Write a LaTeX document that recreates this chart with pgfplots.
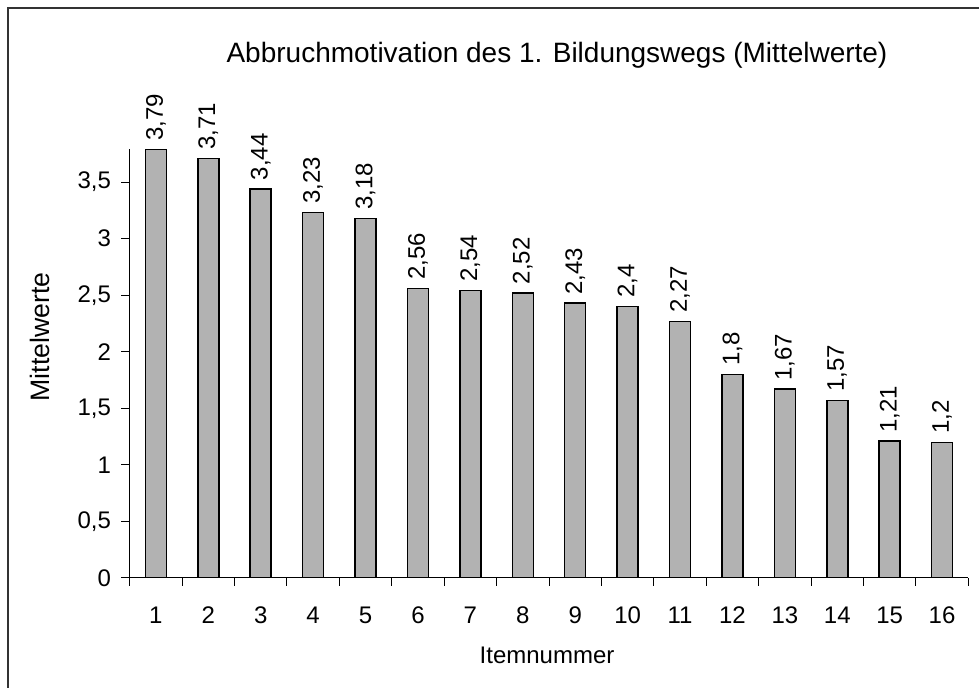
\documentclass[border=0pt]{standalone}
\usepackage{pgfplots}
\pgfplotsset{compat=1.18}
\usepackage{fontspec}
\setmainfont{Liberation Sans}
\begin{document}
\begin{tikzpicture}[x=0.75pt,y=0.75pt]
\path[use as bounding box] (0,0) rectangle (979,688);
\draw[line width=1.1pt, black!80] (8,0) -- (8,680) -- (979,680);
\begin{axis}[
  at={(97.275pt,82.5pt)}, anchor=south west,
  scale only axis, width=628.95pt, height=321.5pt,
  xmin=0.5, xmax=16.5, ymin=0, ymax=3.79,
  axis x line*=bottom, axis y line*=left,
  axis line style={line width=0.75pt, -},
  xtick={1,...,16},
  minor xtick={0.5,1.5,...,16.5},
  major x tick style={draw=none},
  minor tick length=6pt,
  ytick={0,0.5,...,3.5},
  major tick length=6.5pt,
  tick align=outside,
  tick style={line width=0.75pt, black},
  /pgf/number format/assume math mode=true,
  /pgf/number format/use comma,
  ticklabel style={font=\fontsize{18}{20}\selectfont},
  xticklabel style={anchor=base, yshift=-28pt},
  yticklabel style={xshift=-4pt},
  ybar, bar width=15.75pt,
  nodes near coords,
  every node near coord/.append style={rotate=90, anchor=west, font=\fontsize{18}{20}\selectfont, inner sep=6pt},
]
\addplot[fill=black!30, draw=black, line width=1.1pt] coordinates {
(1,3.79) (2,3.71) (3,3.44) (4,3.23) (5,3.18) (6,2.56) (7,2.54) (8,2.52)
(9,2.43) (10,2.4) (11,2.27) (12,1.8) (13,1.67) (14,1.57) (15,1.21) (16,1.2)};
\end{axis}
\node[font=\fontsize{21}{24}\selectfont] at (557,633) {Abbruchmotivation des 1. Bildungswegs (Mittelwerte)};
\node[font=\fontsize{20}{22}\selectfont, rotate=90] at (40,351) {Mittelwerte};
\node[font=\fontsize{18}{20}\selectfont] at (547,33) {Itemnummer};
\end{tikzpicture}
\end{document}
